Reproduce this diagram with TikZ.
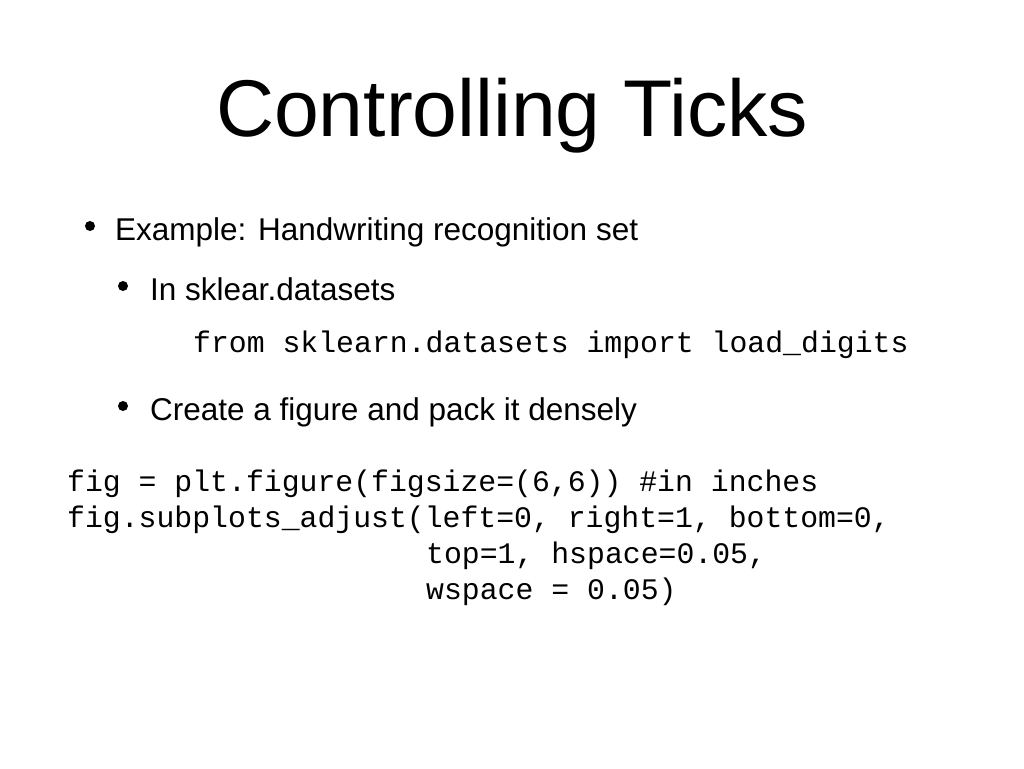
\documentclass[tikz,border=0pt]{standalone}
\usepackage{fontspec}
\setmainfont{Liberation Sans}
\setmonofont{Liberation Mono}
\begin{document}
\begin{tikzpicture}[x=1pt,y=-1pt,
  txt/.style={anchor=base west,inner sep=0pt,font=\fontsize{31.5}{36}\selectfont},
  code/.style={anchor=base west,inner sep=0pt,font=\ttfamily\fontsize{29.8}{34}\selectfont},
  bul/.style={circle,fill=black,inner sep=0pt,minimum size=10pt}]
\useasboundingbox (0,0) rectangle (1024,768);
\node[anchor=base,inner sep=0pt,font=\fontsize{80.5}{90}\selectfont] (title) at (512,136) {Controlling Ticks};
\node[bul] (b1) at (90,226) {};
\node[txt] (t1) at (115,240) {Example: Handwriting recognition set};
\node[bul] (b2) at (123,286) {};
\node[txt] (t2) at (150,300) {In sklear.datasets};
\node[code] (c1) at (193,352) {from sklearn.datasets import load\_digits};
\node[bul] (b3) at (123,406) {};
\node[txt] (t3) at (150,420) {Create a figure and pack it densely};
\node[code] (c2) at (67,491) {fig = plt.figure(figsize=(6,6)) \#in inches};
\node[code] (c3) at (67,527) {fig.subplots\_adjust(left=0, right=1, bottom=0,};
\node[code] (c4) at (426,563) {top=1, hspace=0.05,};
\node[code] (c5) at (426,599) {wspace = 0.05)};
\end{tikzpicture}
\end{document}
